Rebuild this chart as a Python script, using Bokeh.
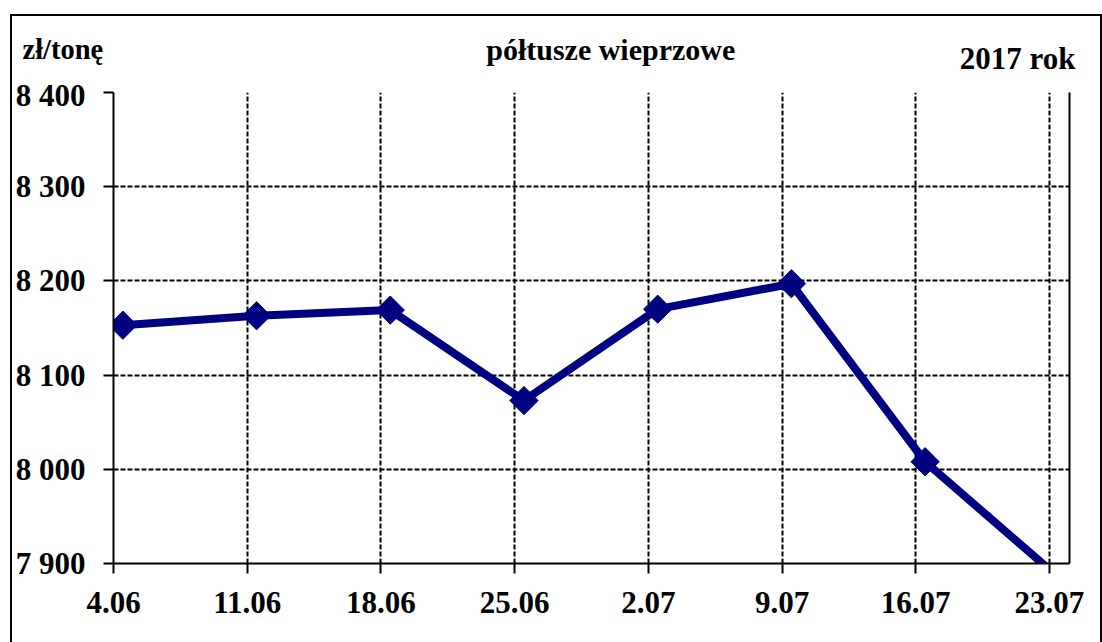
import math
from bokeh.plotting import figure
from bokeh.layouts import column, row
from bokeh.models import Range1d, LinearAxis, FixedTicker, ColumnDataSource
from bokeh.core.properties import value
from bokeh.transform import dodge
from bokeh.embed import file_html
from bokeh.resources import INLINE

dates = ["4.06", "11.06", "18.06", "25.06", "2.07", "9.07", "16.07", "23.07"]
prices = [8153, 8163, 8169, 8073, 8170, 8197, 8008, 7885]
y_ticks = [7900, 8000, 8100, 8200, 8300, 8400]
unit_label = "zł/tonę"
title_text = "półtusze  wieprzowe"
year_text = "2017 rok"

x_idx = list(range(len(dates)))
src = ColumnDataSource(data=dict(x=x_idx, y=prices))

FONT = "Liberation Serif"
NAVY = "#000080"
W = 1088
HEAD_H = 61
MAIN_H = 565

# ---- header with the three texts ----
h = figure(width=W, height=HEAD_H, x_range=Range1d(0, W), y_range=Range1d(HEAD_H, 0),
           output_backend="svg", toolbar_location=None, min_border=0,
           min_border_left=0, min_border_right=0, min_border_top=0, min_border_bottom=0)
h.axis.visible = False
h.grid.visible = False
h.outline_line_color = None
h.background_fill_color = "white"
h.border_fill_color = "white"
common = dict(text_font=value(FONT), text_font_style="bold", text_color="black",
              text_baseline="alphabetic")
h.text(x=[10], y=[33], text=[unit_label], text_align="left", text_font_size="28.5px", **common)
h.text(x=[602], y=[33], text=[title_text], text_align="center", text_font_size="30px", **common)
h.text(x=[1063], y=[42], text=[year_text], text_align="right", text_font_size="31px", **common)

# ---- main chart ----
p = figure(width=W, height=MAIN_H, x_range=Range1d(0, 7.15), y_range=Range1d(7900, 8400),
           output_backend="svg", toolbar_location=None,
           min_border_left=100, min_border_right=31, min_border_top=15, min_border_bottom=79)
p.outline_line_color = None
p.background_fill_color = "white"
p.border_fill_color = "white"

p.xaxis.ticker = FixedTicker(ticks=x_idx)
p.xaxis.major_label_overrides = {i: d for i, d in zip(x_idx, dates)}
p.yaxis.ticker = FixedTicker(ticks=y_ticks)
p.yaxis.major_label_overrides = {v: f"{v:,}".replace(",", " ") for v in y_ticks}
for ax in (p.xaxis[0], p.yaxis[0]):
    ax.axis_line_color = "black"
    ax.axis_line_width = 2
    ax.major_tick_line_color = "black"
    ax.major_tick_line_width = 2
    ax.major_tick_in = 0
    ax.major_tick_out = 10
    ax.minor_tick_line_color = None
    ax.major_label_text_font = FONT
    ax.major_label_text_font_style = "bold"
    ax.major_label_text_font_size = "31px"
    ax.major_label_text_color = "black"
    ax.major_label_standoff = 18

right_ax = LinearAxis(ticker=FixedTicker(ticks=[]), axis_line_color="black", axis_line_width=2,
                      major_tick_line_color=None, minor_tick_line_color=None,
                      major_tick_out=0, major_tick_in=0)
p.add_layout(right_ax, "right")

p.xgrid.ticker = FixedTicker(ticks=x_idx)
p.ygrid.ticker = FixedTicker(ticks=y_ticks)
for g in (p.xgrid[0], p.ygrid[0]):
    g.grid_line_color = "black"
    g.grid_line_width = 2
    g.grid_line_dash = "5 2"

p.line(x=dodge("x", 0.07), y="y", source=src, line_width=8, line_color=NAVY)
p.scatter(x=dodge("x", 0.07), y="y", source=src, marker="square", angle=math.pi / 4,
          size=20, fill_color=NAVY, line_color=NAVY)

layout = column(row(h), row(p), spacing=0)
layout.styles = {"border-left": "2px solid black", "border-top": "2px solid black",
                 "border-right": "2px solid black", "margin-left": "10px", "margin-top": "14px"}

open("out.html", "w").write(file_html(layout, INLINE))
